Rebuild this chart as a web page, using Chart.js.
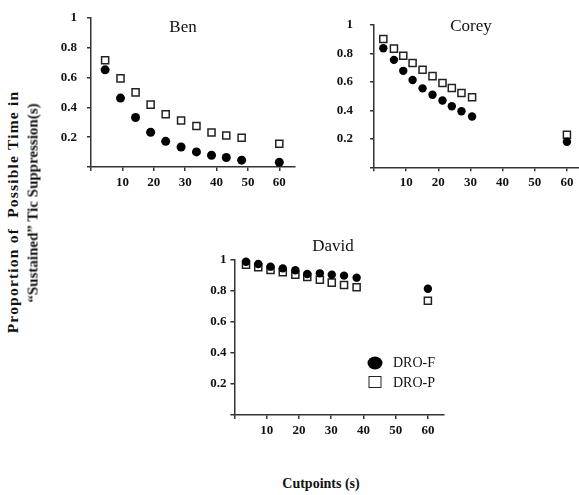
<!DOCTYPE html>
<html>
<head>
<meta charset="utf-8">
<script src="https://cdn.jsdelivr.net/npm/chart.js@4.4.0/dist/chart.umd.min.js"></script>
<style>
    html, body { margin: 0; padding: 0; background: #fff; overflow: hidden; }
    #wrap { position: relative; width: 579px; height: 495px; overflow: hidden; font-family: "Liberation Serif", "DejaVu Serif", serif; color: #111; }
    canvas { position: absolute; }
    .name { position: absolute; font-size: 17px; transform: translate(-50%, -50%); white-space: nowrap; }
    .ytitle { position: absolute; font-size: 15px; font-weight: bold; white-space: nowrap; transform: translate(-50%, -50%) rotate(-90deg); }
    .xtitle { position: absolute; font-size: 14px; font-weight: bold; white-space: nowrap; transform: translate(-50%, -50%); }
    .lg-text { position: absolute; font-size: 14px; transform: translateY(-50%); white-space: nowrap; }
    .lg-dot { position: absolute; width: 15px; height: 13px; border-radius: 50%; background: #000; transform: translate(-50%, -50%); }
    .lg-box { position: absolute; width: 11px; height: 10px; border: 1.5px solid #222; background: #fff; transform: translate(-50%, -50%); }
</style>
</head>
<body>
<div id="wrap">
    <canvas id="ben" width="270" height="195" style="left:40px;top:0px;width:270px;height:195px"></canvas>
    <canvas id="corey" width="275" height="195" style="left:320px;top:0px;width:275px;height:195px"></canvas>
    <canvas id="david" width="290" height="205" style="left:180px;top:235px;width:290px;height:205px"></canvas>

    <div class="name" style="left:183px;top:27px">Ben</div>
    <div class="name" style="left:471px;top:26px">Corey</div>
    <div class="name" style="left:333px;top:246px">David</div>

    <div class="ytitle" style="left:13px;top:212px;font-size:15.5px;letter-spacing:1.2px">Proportion of&nbsp; Possible Time in</div>
    <div class="ytitle" style="left:33px;top:203px">“Sustained” Tic Suppression(s)</div>
    <div class="xtitle" style="left:321px;top:484px">Cutpoints (s)</div>

    <div class="lg-dot" style="left:375px;top:363px"></div>
    <div class="lg-text" style="left:393px;top:363px">DRO-F</div>
    <div class="lg-box" style="left:375px;top:382px"></div>
    <div class="lg-text" style="left:393px;top:383px">DRO-P</div>
</div>

<script>
// cutpoints (s) and proportions
const benX = [4.5, 9.4, 14.2, 19.0, 23.8, 28.7, 33.6, 38.4, 43.1, 48.0, 60]
const benF = [0.651, 0.462, 0.332, 0.233, 0.172, 0.134, 0.101, 0.079, 0.064, 0.046, 0.031]
const benP = [0.715, 0.594, 0.50, 0.418, 0.354, 0.312, 0.275, 0.231, 0.211, 0.196, 0.156]

const coreyX = [2.9, 6.2, 9.1, 12.0, 15.1, 18.2, 21.3, 24.2, 27.2, 30.5, 60]
const coreyF = [0.835, 0.754, 0.677, 0.613, 0.554, 0.509, 0.469, 0.428, 0.393, 0.357, 0.179]
const coreyP = [0.90, 0.833, 0.783, 0.732, 0.685, 0.64, 0.592, 0.557, 0.521, 0.492, 0.229]

const davidX = [3.6, 7.4, 11.2, 15.0, 18.9, 22.6, 26.5, 30.2, 34.0, 37.9, 60]
const davidF = [0.989, 0.974, 0.957, 0.946, 0.934, 0.910, 0.914, 0.905, 0.899, 0.886, 0.815]
const davidP = [0.970, 0.953, 0.935, 0.921, 0.905, 0.890, 0.873, 0.854, 0.839, 0.824, 0.737]

const xTicks = [10, 20, 30, 40, 50, 60]
const yTicks = [0.2, 0.4, 0.6, 0.8, 1]

const tickFont = {family: '"Liberation Serif", serif', size: 13, weight: 'bold'}

function makePanel(id, xs, dF, dP, opt) {
    const pts = ys => ys.map((y, i) => ({x: xs[i], y: y}))
    return new Chart(document.getElementById(id), {
        type: 'scatter',
        data: {
            datasets: [
                {label: 'DRO-F', data: pts(dF), pointStyle: 'circle', pointRadius: opt.r,
                    backgroundColor: '#000', borderColor: '#000', borderWidth: 0, clip: false},
                {label: 'DRO-P', data: pts(dP), pointStyle: 'rect', pointRadius: 5,
                    backgroundColor: '#fff', borderColor: '#222', borderWidth: 1.5, clip: false}
            ]
        },
        options: {
            responsive: false,
            animation: false,
            layout: {padding: {top: opt.top, right: opt.right, left: 0, bottom: 0}},
            plugins: {legend: {display: false}, tooltip: {enabled: false}},
            scales: {
                x: {
                    type: 'linear', min: 0, max: 65,
                    border: {color: '#333', width: 1.5},
                    grid: {drawOnChartArea: false, tickLength: 4, color: '#333', lineWidth: 1.5},
                    ticks: {
                        stepSize: 10, includeBounds: false, padding: 4, color: '#111', font: tickFont,
                        callback: v => xTicks.includes(v) ? String(v) : ''
                    },
                    afterFit: s => { s.height = opt.xh }
                },
                y: {
                    type: 'linear', min: 0, max: 1,
                    border: {color: '#333', width: 1.5},
                    grid: {drawOnChartArea: false, tickLength: 4, color: '#333', lineWidth: 1.5},
                    ticks: {
                        stepSize: 0.2, padding: opt.yp, color: '#111', font: tickFont,
                        callback: v => {
                            const r = Math.round(v * 10) / 10
                            return yTicks.includes(r) ? String(r) : ''
                        }
                    },
                    afterFit: s => { s.width = opt.yw }
                }
            }
        }
    })
}

makePanel('ben', benX, benF, benP, {r: 4.5, top: 15.5, right: 15, xh: 28, yw: 51, yp: 10})
makePanel('corey', coreyX, coreyF, coreyP, {r: 4.2, top: 18.8, right: 12, xh: 27.7, yw: 54, yp: 17})
makePanel('david', davidX, davidF, davidP, {r: 4.2, top: 25, right: 26, xh: 25, yw: 54.4, yp: 4})
</script>
</body>
</html>
